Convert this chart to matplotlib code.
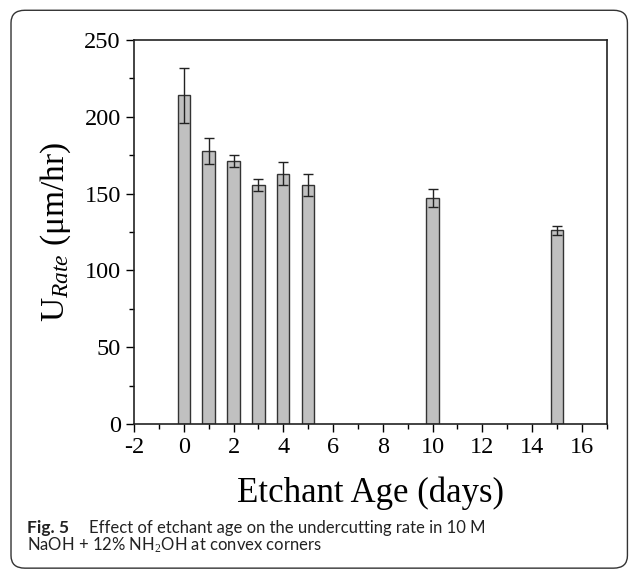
import matplotlib.pyplot as plt
from matplotlib.patches import FancyBboxPatch
from matplotlib.ticker import MultipleLocator

age_days = [0, 1, 2, 3, 4, 5, 10, 15]
rate = [214, 178, 171, 155.5, 163, 155.5, 147, 126]
rate_err = [18, 8.5, 4, 4, 7.5, 7, 6, 3]

plt.rcParams["mathtext.fontset"] = "custom"
plt.rcParams["mathtext.it"] = "Liberation Serif:italic"
plt.rcParams["mathtext.rm"] = "Liberation Serif"
plt.rcParams["axes.unicode_minus"] = False

fig = plt.figure(figsize=(6.29, 5.71), dpi=100)

# rounded frame round the whole figure
frame = FancyBboxPatch((0.0175, 0.005), 0.98, 0.977, boxstyle="round,pad=0,rounding_size=0.022",
                       transform=fig.transFigure, facecolor="none", edgecolor="#333333",
                       linewidth=1.0, clip_on=False)
fig.patches.append(frame)

ax = fig.add_axes([0.213, 0.2574, 0.7516, 0.6726])
ax.bar(age_days, rate, width=0.5, color="#c0c0c0", edgecolor="#333333", linewidth=1.0,
       yerr=rate_err, error_kw=dict(ecolor="#222222", elinewidth=1.0, capsize=3.3, capthick=1.0))

ax.set_xlim(-2, 17)
ax.set_ylim(0, 250)
ax.xaxis.set_major_locator(MultipleLocator(2))
ax.xaxis.set_minor_locator(MultipleLocator(1))
ax.yaxis.set_major_locator(MultipleLocator(50))
ax.yaxis.set_minor_locator(MultipleLocator(25))
ax.tick_params(which="major", direction="out", length=6, width=1.0, labelsize=17.5)
ax.tick_params(which="minor", direction="out", length=3.5, width=1.0)
for lab in ax.get_xticklabels() + ax.get_yticklabels():
    lab.set_family("Liberation Serif")
for s in ax.spines.values():
    s.set_linewidth(1.2)
    s.set_color("#222222")

ax.set_xlabel("Etchant Age (days)", family="Liberation Serif", fontsize=25, labelpad=13)
ax.set_ylabel(r"U$_{\mathit{Rate}}$ ($\mathregular{\mu}$m/hr)", family="Liberation Serif",
              fontsize=24, labelpad=8)

fig.text(0.043, 0.067, "Fig. 5", family="Lato", fontweight="bold", fontsize=12.5,
         color="#222222")
fig.text(0.141, 0.067, "Effect of etchant age on the undercutting rate in 10 M",
         family="Lato", fontsize=12, color="#222222")
fig.text(0.043, 0.035, r"NaOH + 12% NH$_2$OH at convex corners",
         family="Lato", fontsize=12, color="#222222")

fig.savefig("out.png", dpi=100)
